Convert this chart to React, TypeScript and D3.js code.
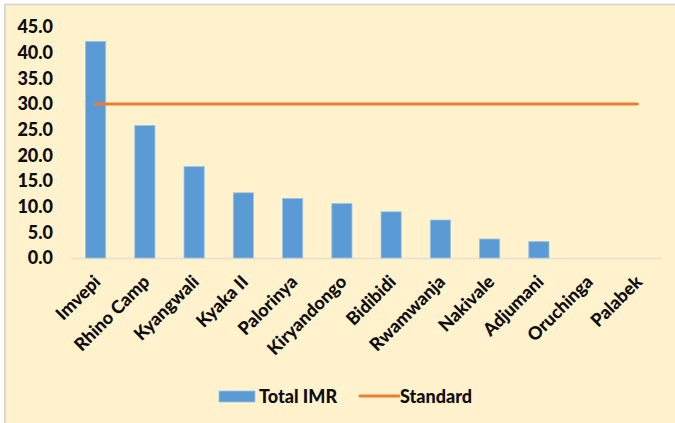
import { useEffect, useRef } from "react";
import * as d3 from "d3";

const camps = [
  "Imvepi",
  "Rhino Camp",
  "Kyangwali",
  "Kyaka II",
  "Palorinya",
  "Kiryandongo",
  "Bidibidi",
  "Rwamwanja",
  "Nakivale",
  "Adjumani",
  "Oruchinga",
  "Palabek",
];
const totalIMR = [42.2, 25.8, 17.8, 12.7, 11.6, 10.6, 9.0, 7.4, 3.7, 3.2, 0, 0];
const standard = [30, 30, 30, 30, 30, 30, 30, 30, 30, 30, 30, 30];
const yTicks = [0, 5, 10, 15, 20, 25, 30, 35, 40, 45];
const legendLabels = ["Total IMR", "Standard"];

const W = 675;
const H = 423;
const FONT = "Lato, 'Open Sans', sans-serif";

const App = () => {
  const ref = useRef<SVGSVGElement>(null);

  useEffect(() => {
    const svg = d3.select(ref.current);
    svg.selectAll("*").remove();

    // chart box
    svg.append("rect").attr("width", W).attr("height", H).attr("fill", "#fff");
    svg
      .append("rect")
      .attr("x", 5)
      .attr("y", 4.5)
      .attr("width", W + 10)
      .attr("height", H + 10)
      .attr("fill", "#FFF2CC")
      .attr("stroke", "#D9D9D9")
      .attr("stroke-width", 2);

    const x = d3.scaleBand().domain(camps).range([71, 662]).padding(0);
    const y = d3.scaleLinear().domain([0, 45]).range([258, 27]);
    const barW = x.bandwidth() * 0.41;
    const cx = (d: string) => (x(d) as number) + x.bandwidth() / 2;

    // y labels
    svg
      .append("g")
      .selectAll("text")
      .data(yTicks)
      .join("text")
      .attr("x", 53)
      .attr("y", (d) => y(d))
      .attr("dy", "0.36em")
      .attr("text-anchor", "end")
      .attr("font-family", FONT)
      .attr("font-weight", 900)
      .attr("font-size", 18)
      .attr("fill", "#0d0d0d")
      .text((d) => d3.format(".1f")(d));

    // baseline
    svg
      .append("line")
      .attr("x1", 71)
      .attr("x2", 662)
      .attr("y1", y(0) + 0.5)
      .attr("y2", y(0) + 0.5)
      .attr("stroke", "#E5E0D0")
      .attr("stroke-width", 1.5);

    // bars
    svg
      .append("g")
      .selectAll("rect")
      .data(camps)
      .join("rect")
      .attr("x", (d) => cx(d) - barW / 2)
      .attr("y", (d, i) => y(totalIMR[i]))
      .attr("width", barW)
      .attr("height", (d, i) => y(0) - y(totalIMR[i]))
      .attr("fill", "#5B9BD5")
      .attr("stroke", (d, i) => (totalIMR[i] > 0 ? "#9DC3E6" : "none"))
      .attr("stroke-width", 0.8);

    // standard line
    const line = d3
      .line<string>()
      .x((d) => cx(d))
      .y((d, i) => y(standard[i]));
    svg
      .append("path")
      .attr("d", line(camps))
      .attr("fill", "none")
      .attr("stroke", "#ED7D31")
      .attr("stroke-width", 3)
      .attr("stroke-linecap", "round");

    // x labels
    svg
      .append("g")
      .selectAll("text")
      .data(camps)
      .join("text")
      .attr("transform", (d) => `translate(${cx(d) + 6},${283}) rotate(-45)`)
      .attr("text-anchor", "end")
      .attr("font-family", FONT)
      .attr("font-weight", 900)
      .attr("font-size", 18)
      .attr("fill", "#0d0d0d")
      .text((d) => d);

    // legend
    const lg = svg.append("g");
    lg.append("rect")
      .attr("x", 219)
      .attr("y", 391)
      .attr("width", 36)
      .attr("height", 11)
      .attr("fill", "#5B9BD5")
      .attr("stroke", "#9DC3E6")
      .attr("stroke-width", 0.8);
    lg.append("text")
      .attr("x", 259)
      .attr("y", 402.5)
      .attr("font-family", FONT)
      .attr("font-weight", 900)
      .attr("font-size", 18)
      .attr("fill", "#0d0d0d")
      .text(legendLabels[0]);
    lg.append("line")
      .attr("x1", 360)
      .attr("x2", 399)
      .attr("y1", 396)
      .attr("y2", 396)
      .attr("stroke", "#ED7D31")
      .attr("stroke-width", 3)
      .attr("stroke-linecap", "round");
    lg.append("text")
      .attr("x", 400)
      .attr("y", 402.5)
      .attr("font-family", FONT)
      .attr("font-weight", 900)
      .attr("font-size", 18)
      .attr("fill", "#0d0d0d")
      .text(legendLabels[1]);
  }, []);

  return (
    <svg
      ref={ref}
      width={W}
      height={H}
      style={{ position: "absolute", left: 0, top: 0, display: "block" }}
    />
  );
};

export default App;
